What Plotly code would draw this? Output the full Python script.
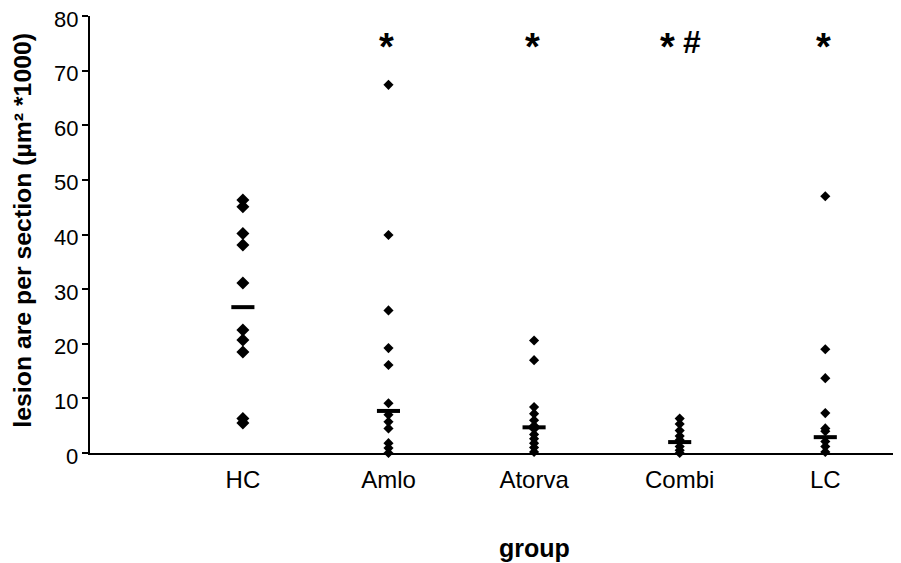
import plotly.graph_objects as go

groups = ["HC", "Amlo", "Atorva", "Combi", "LC"]
hc = [46.3, 45.1, 40.2, 38.1, 31.1, 22.5, 20.7, 18.5, 6.3, 5.5]
amlo = [67.4, 39.9, 26.1, 19.2, 16.1, 9.1, 7.0, 5.7, 4.5, 1.8, 0.9, 0.0]
atorva = [20.6, 17.0, 8.4, 7.2, 6.0, 5.0, 4.4, 3.4, 2.6, 1.8, 1.0, 0.2]
combi = [6.3, 5.3, 4.1, 3.1, 2.4, 1.2, 0.5, 0.0]
lc = [47.0, 19.0, 13.7, 7.3, 4.5, 4.0, 2.1, 1.2, 0.2]
medians = [26.7, 7.7, 4.7, 2.0, 2.9]
star_marks = ["", "*", "*", "*", "*"]
hash_marks = ["", "", "", "#", ""]
ytick_vals = [0, 10, 20, 30, 40, 50, 60, 70, 80]
ytick_text = ["0", "10", "20", "30", "40", "50", "60", "70", "80"]

series = [hc, amlo, atorva, combi, lc]
marker_sizes = [10, 7.8, 7.8, 7.8, 7.8]
FONT = "Liberation Sans, Arial, sans-serif"

fig = go.Figure()
for i, vals in enumerate(series):
    fig.add_trace(go.Scatter(
        x=[i + 1] * len(vals), y=vals, mode="markers",
        marker=dict(symbol="diamond", size=marker_sizes[i], color="black",
                    line=dict(width=0)),
        cliponaxis=False, showlegend=False, hoverinfo="y"))

fig.add_trace(go.Scatter(
    x=list(range(1, 6)), y=medians, mode="markers",
    marker=dict(symbol="line-ew", size=16.5, color="black",
                line=dict(width=4, color="black")),
    cliponaxis=False, showlegend=False))

for i in range(len(groups)):
    has_hash = bool(hash_marks[i])
    if star_marks[i]:
        fig.add_annotation(x=i + 1, y=74.4, xref="x", yref="y", text=star_marks[i],
                           showarrow=False, xshift=-12 if has_hash else -2,
                           font=dict(family=FONT, size=38, color="black",
                                     weight="bold"))
    if has_hash:
        fig.add_annotation(x=i + 1, y=75.15, xref="x", yref="y", text=hash_marks[i],
                           showarrow=False, xshift=12,
                           font=dict(family=FONT, size=32, color="black",
                                     weight="bold"))

# y tick labels (sit slightly below their ticks, as in the reference)
for v, t in zip(ytick_vals, ytick_text):
    fig.add_annotation(x=-11 / 811, y=v, xref="paper", yref="y", text=t,
                       showarrow=False, xanchor="right", yanchor="middle",
                       yshift=-3, borderpad=0,
                       font=dict(family=FONT, size=22, color="black"))

fig.add_annotation(x=3, y=-0.2174, xref="x", yref="paper", text="<b>group</b>",
                   showarrow=False, yanchor="middle",
                   font=dict(family=FONT, size=25, color="black"))
fig.add_annotation(x=(14.5 - 82) / 811, y=0.51, xref="paper", yref="paper",
                   text="<b>lesion are per section (µm² *1000)</b>", textangle=-90,
                   showarrow=False, xanchor="center", yanchor="middle",
                   font=dict(family=FONT, size=24.8, color="black"))

fig.update_layout(
    width=893, height=555,
    margin=dict(l=82, r=0, t=8, b=110),
    plot_bgcolor="white", paper_bgcolor="white",
    font=dict(family=FONT, color="black"),
    xaxis=dict(range=[-0.05, 5.52], showline=True, linecolor="black", linewidth=2,
               tickvals=list(range(1, 6)), ticktext=groups, ticks="",
               tickfont=dict(size=24), showgrid=False, zeroline=False,
               ticklabelstandoff=4, fixedrange=True, automargin=False),
    yaxis=dict(range=[0, 80], showline=True, linecolor="black", linewidth=2,
               tickvals=ytick_vals, ticks="outside", ticklen=6, tickwidth=1.5,
               tickcolor="black", showticklabels=False, showgrid=False,
               zeroline=False, automargin=False, fixedrange=True),
)

fig.write_html("out.html")
